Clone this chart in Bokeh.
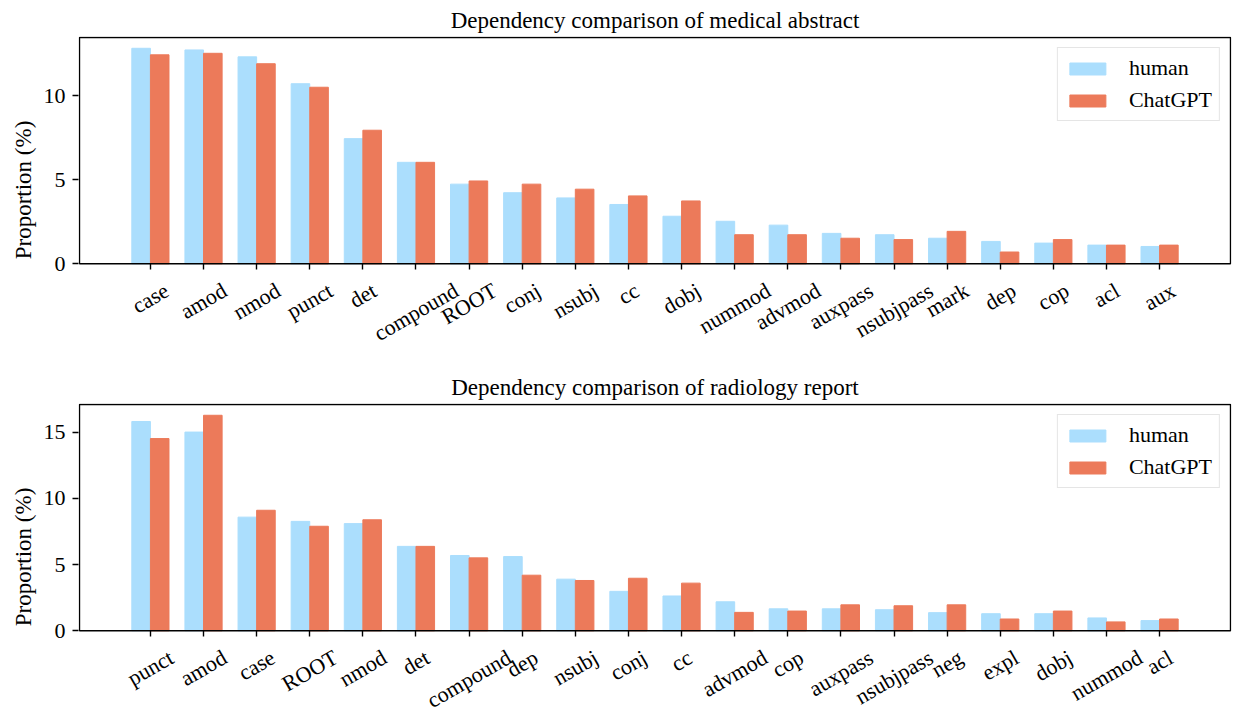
import math
from bokeh.plotting import figure
from bokeh.models import ColumnDataSource, Range1d, FixedTicker, LabelSet, BoxAnnotation, Title
from bokeh.layouts import column
from bokeh.transform import dodge
from bokeh.core.properties import value
from bokeh.embed import file_html
from bokeh.resources import INLINE

# ---------------- data ----------------
title_top = "Dependency comparison of medical abstract"
cats_top = ["case", "amod", "nmod", "punct", "det", "compound", "ROOT", "conj", "nsubj", "cc",
            "dobj", "nummod", "advmod", "auxpass", "nsubjpass", "mark", "dep", "cop", "acl", "aux"]
human_top = [12.83, 12.73, 12.32, 10.72, 7.45, 6.04, 4.74, 4.23, 3.92, 3.53,
             2.83, 2.53, 2.30, 1.81, 1.73, 1.52, 1.33, 1.23, 1.11, 1.03]
chatgpt_top = [12.44, 12.53, 11.91, 10.51, 7.95, 6.04, 4.93, 4.74, 4.44, 4.04,
               3.74, 1.73, 1.73, 1.52, 1.44, 1.93, 0.70, 1.44, 1.11, 1.11]
yticks_top = [0, 5, 10]

title_bot = "Dependency comparison of radiology report"
cats_bot = ["punct", "amod", "case", "ROOT", "nmod", "det", "compound", "dep", "nsubj", "conj",
            "cc", "advmod", "cop", "auxpass", "nsubjpass", "neg", "expl", "dobj", "nummod", "acl"]
human_bot = [15.82, 15.02, 8.59, 8.27, 8.10, 6.38, 5.69, 5.61, 3.90, 2.98,
             2.63, 2.19, 1.66, 1.66, 1.59, 1.37, 1.29, 1.29, 0.97, 0.77]
chatgpt_bot = [14.53, 16.29, 9.11, 7.90, 8.39, 6.38, 5.51, 4.20, 3.80, 3.97,
               3.60, 1.39, 1.49, 1.96, 1.89, 1.96, 0.89, 1.49, 0.67, 0.89]
yticks_bot = [0, 5, 10, 15]

series_names = ["human", "ChatGPT"]
ylabel = "Proportion (%)"

# ---------------- style ----------------
FONT = "Liberation Serif"
C_HUMAN = "#ABDEFD"
C_GPT = "#EC7A5A"
TICK_FS = 22
BAR_W = 0.35
AX_W = 1.4

# approximate Times glyph advance widths (em) to place rotated labels like matplotlib
W = dict(a=.444, b=.5, c=.444, d=.5, e=.444, f=.333, g=.5, h=.5, i=.278, j=.278, k=.5, l=.278,
         m=.778, n=.5, o=.5, p=.5, q=.5, r=.333, s=.389, t=.278, u=.5, v=.5, w=.722, x=.5,
         y=.5, z=.444, R=.667, O=.722, T=.611)


def label_offset(s):
    w = sum(W.get(ch, .5) for ch in s) * TICK_FS
    h = 0.72 * TICK_FS
    ang = math.radians(30)
    bbox_h = w * math.sin(ang) + h * math.cos(ang)
    return -(18 + bbox_h / 2)


def make_fig(title, cats, human, gpt, yticks, top_border, data_px, label_px, bottom_border):
    n = len(cats)
    src = ColumnDataSource(dict(x=list(range(n)), human=human, gpt=gpt))
    ymax = max(max(human), max(gpt)) * 1.05
    ymin = -ymax * label_px / data_px          # room inside the frame for rotated tick labels
    span = n - 1 + 2 * BAR_W
    x0, x1 = -BAR_W - 0.05 * span, n - 1 + BAR_W + 0.05 * span
    px_x = (x1 - x0) / 1150.0                  # ~1 px of slack so the box edges are not clipped
    px_y = ymax / data_px
    height = top_border + data_px + label_px + bottom_border
    p = figure(width=1232, height=height, output_backend="svg", toolbar_location=None,
               x_range=Range1d(x0 - px_x, x1 + px_x), y_range=Range1d(ymin, ymax + px_y),
               min_border_left=78, min_border_right=1,
               min_border_top=top_border, min_border_bottom=bottom_border)
    p.vbar(x=dodge("x", -BAR_W / 2, range=p.x_range), top="human", width=BAR_W, source=src,
           fill_color=C_HUMAN, line_color=C_HUMAN, legend_label=series_names[0])
    p.vbar(x=dodge("x", BAR_W / 2, range=p.x_range), top="gpt", width=BAR_W, source=src,
           fill_color=C_GPT, line_color=C_GPT, legend_label=series_names[1])

    # title
    p.title.text = title
    p.title.align = "center"
    p.title.text_font = FONT
    p.title.text_font_size = "23px"
    p.title.text_font_style = "normal"
    p.title.text_color = "black"
    p.title.standoff = 7

    # axes box (only around the data area)
    p.outline_line_color = None
    p.xgrid.visible = False
    p.ygrid.visible = False
    p.add_layout(BoxAnnotation(left=x0, right=x1, bottom=0, top=ymax, fill_color=None,
                               line_color="black", line_alpha=1.0, line_width=AX_W,
                               level="overlay"))

    # x axis at y=0: ticks only; labels rotated and centred (as matplotlib)
    p.xaxis.fixed_location = 0
    p.xaxis.ticker = FixedTicker(ticks=list(range(n)))
    p.xaxis.major_label_overrides = {i: "" for i in range(n)}
    p.xaxis.major_label_text_font_size = "1px"
    p.xaxis.major_tick_out = 6
    p.xaxis.major_tick_in = 0
    p.xaxis.minor_tick_line_color = None
    p.xaxis.major_tick_line_width = AX_W
    p.xaxis.major_tick_line_color = "black"
    p.xaxis.axis_line_color = None
    p.xaxis.major_label_standoff = 0

    lsrc = ColumnDataSource(dict(x=list(range(n)), text=cats, yoff=[label_offset(c) for c in cats]))
    p.add_layout(LabelSet(x="x", y=0, text="text", source=lsrc, y_offset="yoff",
                          angle=30, angle_units="deg", text_align="center", text_baseline="middle",
                          text_font=value(FONT), text_font_size=value(f"{TICK_FS}px"),
                          text_color="black"))

    # y axis
    p.yaxis.ticker = FixedTicker(ticks=yticks)
    p.yaxis.minor_tick_line_color = None
    p.yaxis.major_tick_out = 6
    p.yaxis.major_tick_in = 0
    p.yaxis.major_tick_line_width = AX_W
    p.yaxis.major_tick_line_color = "black"
    p.yaxis.axis_line_color = None
    p.yaxis.major_label_text_font = FONT
    p.yaxis.major_label_text_font_size = f"{TICK_FS}px"
    p.yaxis.major_label_text_color = "black"
    p.yaxis.major_label_standoff = 7

    # y label centred on the data area
    p.add_layout(Title(text=ylabel, align="center", offset=label_px / 2, standoff=9,
                       text_font=FONT, text_font_size="23px", text_font_style="normal",
                       text_color="black"), "left")

    # legend
    lg = p.legend[0]
    lg.location = "top_right"
    lg.margin = 11
    lg.padding = 7
    lg.spacing = 6
    lg.glyph_width = 45
    lg.glyph_height = 15
    lg.label_height = 22
    lg.label_standoff = 19
    lg.label_text_font = FONT
    lg.label_text_font_size = "22px"
    lg.label_text_color = "black"
    lg.border_line_color = "#cccccc"
    lg.border_line_width = 1.2
    lg.background_fill_alpha = 0.8
    return p


p1 = make_fig(title_top, cats_top, human_top, chatgpt_top, yticks_top, 36, 227, 80, 5)
p2 = make_fig(title_bot, cats_bot, human_bot, chatgpt_bot, yticks_bot, 55, 227, 80, 3)
layout = column(p1, p2, spacing=0)

open("out.html", "w").write(file_html(layout, INLINE))
